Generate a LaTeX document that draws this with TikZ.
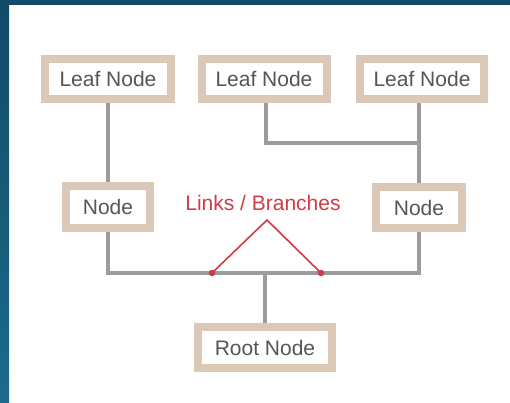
\documentclass[tikz,border=0pt]{standalone}
\usepackage{fontspec}
\setmainfont{Liberation Sans}
\usetikzlibrary{backgrounds}
\definecolor{bandtop}{HTML}{124A67}
\definecolor{bandbot}{HTML}{1B6B8B}
\definecolor{beige}{HTML}{D9C9B6}
\definecolor{linegray}{HTML}{9C9C9C}
\definecolor{txtgray}{HTML}{555555}
\definecolor{linkred}{HTML}{D23A46}
\begin{document}
\begin{tikzpicture}[x=1pt,y=-1pt,
  box/.style={draw=beige, line width=8pt, fill=white, inner sep=0pt,
    text=txtgray, font=\fontsize{21}{24}\selectfont},
  link/.style={draw=linegray, line width=4.5pt},
  redline/.style={draw=linkred, line width=1.6pt},
  reddot/.style={circle, fill=linkred, inner sep=0pt, minimum size=6.5pt}]
\useasboundingbox (0,0) rectangle (510,402);

% connector helper points
\coordinate (l2bend) at (266,143);
\coordinate (rjoin) at (419,143);
\coordinate (lbot) at (108,273);
\coordinate (rbot) at (419,273);
\coordinate (rootjoin) at (265,273);

% nodes (outer size = minimum size + 8)
\node[box, minimum width=126pt, minimum height=40pt] (leaf1) at (108,79) {Leaf Node};
\node[box, minimum width=125pt, minimum height=40pt] (leaf2) at (264,79) {Leaf Node};
\node[box, minimum width=124pt, minimum height=40pt] (leaf3) at (422,79) {Leaf Node};
\node[box, minimum width=84pt, minimum height=42pt] (nodeL) at (108,207) {Node};
\node[box, minimum width=86pt, minimum height=41pt] (nodeR) at (419,207.5) {Node};
\node[box, minimum width=134pt, minimum height=41pt] (root) at (265,347.5) {Root Node};

\begin{scope}[on background layer]
\fill[white] (0,0) rectangle (510,402);
\shade[top color=bandtop, bottom color=bandbot] (0,0) rectangle (9,402);
\fill[bandtop] (8.5,0) rectangle (510,5);
\draw[link] (leaf1.south -| lbot) -- (nodeL.north -| lbot);
\draw[link] (leaf2.south -| l2bend) -- (l2bend) -- (rjoin);
\draw[link] (leaf3.south -| rjoin) -- (nodeR.north -| rjoin);
\draw[link] (nodeL.south -| lbot) -- (lbot) -- (rbot) -- (nodeR.south -| rbot);
\draw[link] (rootjoin) -- (root.north -| rootjoin);
\end{scope}

% links / branches label
\node[text=linkred, font=\fontsize{21}{24}\selectfont, inner sep=0pt] (lbl) at (263,203) {Links / Branches};
\coordinate (apex) at (267,220);
\node[reddot] (d1) at (212,273) {};
\node[reddot] (d2) at (321,273) {};
\draw[redline] (d1.center) -- (apex) -- (d2.center);
\end{tikzpicture}
\end{document}
